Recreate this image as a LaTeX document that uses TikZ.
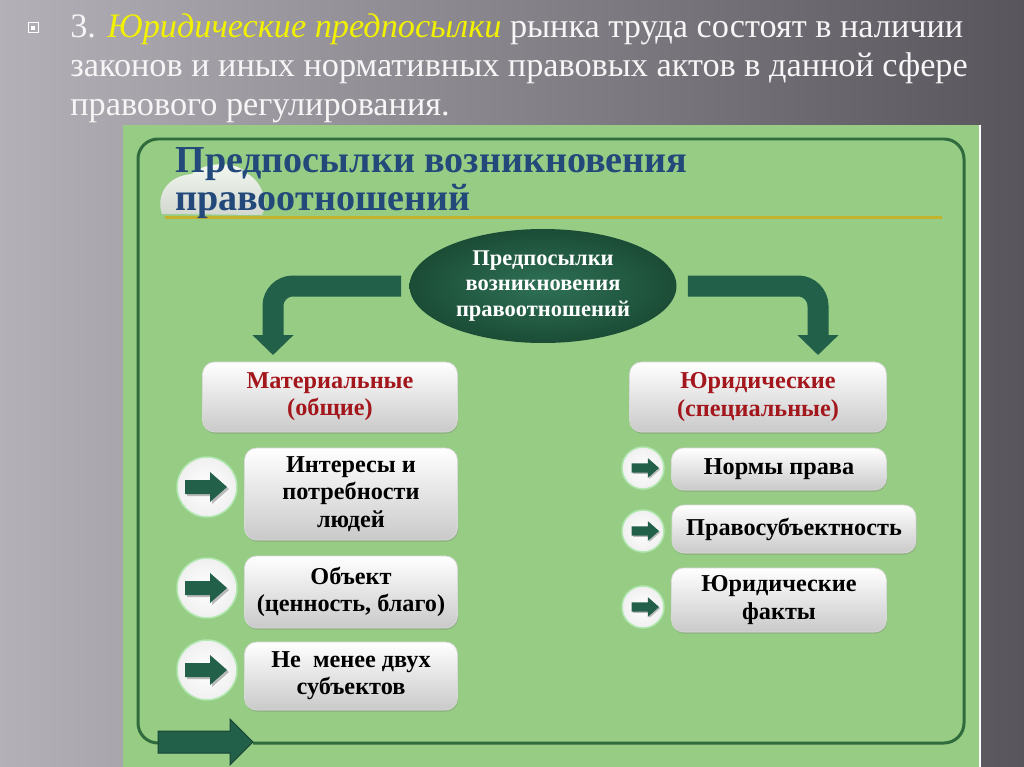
\documentclass[tikz,border=0pt]{standalone}
\usepackage{fontspec}
\setmainfont{Liberation Serif}
\usetikzlibrary{
    arrows.meta,
    shapes.geometric, % ellipse
    shadows,
    positioning
}

\definecolor{slidelight}{HTML}{B4B0B8}
\definecolor{slidemid}{HTML}{726E76}
\definecolor{slidedark}{HTML}{59555D}
\definecolor{panelgreen}{HTML}{97CC85}
\definecolor{framegreen}{HTML}{2F6B3D}
\definecolor{arrowgreen}{HTML}{22604A}
\definecolor{hubin}{HTML}{2E7156}
\definecolor{hubout}{HTML}{1B4C36}
\definecolor{titleblue}{HTML}{22497A}
\definecolor{rulegold}{HTML}{C2B22C}
\definecolor{headred}{HTML}{A3161C}
\definecolor{slideyellow}{HTML}{F2F200}

\tikzset{
    toptext/.style={anchor=base west, inner sep=0pt, text=white!93!gray,
        font=\fontsize{19.5}{24}\selectfont},
    paneltitle/.style={anchor=base west, inner sep=0pt, text=titleblue,
        font=\bfseries\fontsize{21.7}{26}\selectfont},
    box/.style={rounded corners=0.24cm, top color=white, bottom color=gray!42,
        draw=gray!30, align=center, inner sep=0pt,
        font=\bfseries\fontsize{13.8}{15.5}\selectfont,
        drop shadow={shadow xshift=0.4pt, shadow yshift=-1pt, opacity=0.3}},
    header/.style={text=headred},
    hub/.style={ellipse, inner color=hubin, outer color=hubout, text=white,
        align=center, inner sep=0pt, minimum width=5.34cm, minimum height=2.28cm,
        font=\bfseries\fontsize{12.8}{14.4}\selectfont},
    bigarrow/.style={draw=arrowgreen, line width=0.42cm, rounded corners=0.4cm,
        -{Triangle[width=0.8cm,length=0.4cm]}},
    bullet/.style={circle, inner color=white, outer color=gray!12,
        draw=gray!45!green!40, line width=0.03cm, inner sep=0pt},
    frame/.style={draw=framegreen, line width=0.06cm, rounded corners=0.4cm}
}

\begin{document}
\begin{tikzpicture}[x=0.02cm,y=-0.02cm]
    \useasboundingbox (0,0) rectangle (1024,767);
    % slide background
    \shade[left color=slidelight, middle color=slidemid, right color=slidedark]
        (0,0) rectangle (1024,767);
    \draw[white, line width=0.02cm] (28,23) rectangle (38,33);
    \fill[white] (31,26) rectangle (35,30);
    \node[toptext] (t1) at (70,38)
        {3. \textcolor{slideyellow}{\textit{Юридические предпосылки}} рынка труда состоят в наличии};
    \node[toptext] (t2) at (70,77) {законов и иных нормативных правовых актов в данной сфере};
    \node[toptext] (t3) at (70,115) {правового регулирования.};

    % green panel
    \fill[panelgreen] (123,125) rectangle (979,767);
    \draw[white, line width=0.03cm] (980,125) -- (980,767);
    \draw[frame] (160,743) -| (138,139) -| (964,743) -- (253,743);
    \fill[arrowgreen, draw=arrowgreen!70!black, line width=0.02cm]
        (158,731) -- (230,731) -- (230,719) -- (253,742) -- (230,765)
        -- (230,753) -- (158,753) -- cycle;

    % heading
    \shade[top color=white, bottom color=gray!30, opacity=0.9]
        (162,214) .. controls (156,196) and (166,176) .. (192,174)
        .. controls (204,162) and (236,160) .. (248,174)
        .. controls (264,184) and (268,204) .. (262,215) -- cycle;
    \draw[rulegold, line width=0.06cm] (165,217) -- (942,217);
    \node[paneltitle] (h1) at (175,173) {Предпосылки возникновения};
    \node[paneltitle] (h2) at (175,210) {правоотношений};

    % hub and branches
    \node[hub] (hub) at (543,286) {Предпосылки\\возникновения\\правоотношений};
    \coordinate (ltip) at (273,355);
    \coordinate (rtip) at (818,355);
    \draw[bigarrow, shorten <=0.16cm] (hub.west) -| (ltip);
    \draw[bigarrow, shorten <=0.22cm] (hub.east) -| (rtip);

    \node[box, header, minimum width=5.10cm, minimum height=1.40cm] (mat) at (330,397)
        {Материальные\\(общие)};
    \node[box, header, minimum width=5.14cm, minimum height=1.40cm] (jur) at (758,397)
        {Юридические\\(специальные)};

    % left items
    \node[box, minimum width=4.26cm, minimum height=1.84cm] (need) at (351,494)
        {Интересы и\\потребности\\людей};
    \node[box, minimum width=4.26cm, minimum height=1.44cm] (obj) at (351,592)
        {Объект\\(ценность, благо)};
    \node[box, minimum width=4.26cm, minimum height=1.36cm] (subj) at (351,676)
        {Не\ \ менее двух\\субъектов};

    % right items
    \node[box, minimum width=4.30cm, minimum height=0.84cm] (norm) at (779,469)
        {Нормы права};
    \node[box, minimum width=4.88cm, minimum height=0.96cm] (pers) at (794,529)
        {Правосубъектность};
    \node[box, minimum width=4.30cm, minimum height=1.28cm] (fact) at (779,600)
        {Юридические\\факты};

    % bullets
    \foreach \n/\y in {b1/487, b2/588, b3/670}
        \node[bullet, minimum size=1.2cm] (\n) at (207,\y) {};
    \foreach \n/\y in {d1/468, d2/531, d3/607}
        \node[bullet, minimum size=0.84cm] (\n) at (643,\y) {};
    \foreach \n/\s/\dx in {b1/1/0, b2/1/0, b3/1/0, d1/0.65/3, d2/0.65/3, d3/0.65/3} {
        \fill[gray!55, shift={(\n.center)}, xshift=\dx*0.02cm, scale=\s, shift={(2,2)}]
            (-22,-7) -- (3,-7) -- (3,-15) -- (20,0) -- (3,15) -- (3,7) -- (-22,7) -- cycle;
        \fill[arrowgreen, shift={(\n.center)}, xshift=\dx*0.02cm, scale=\s]
            (-22,-7) -- (3,-7) -- (3,-15) -- (20,0) -- (3,15) -- (3,7) -- (-22,7) -- cycle;
    }
\end{tikzpicture}
\end{document}
